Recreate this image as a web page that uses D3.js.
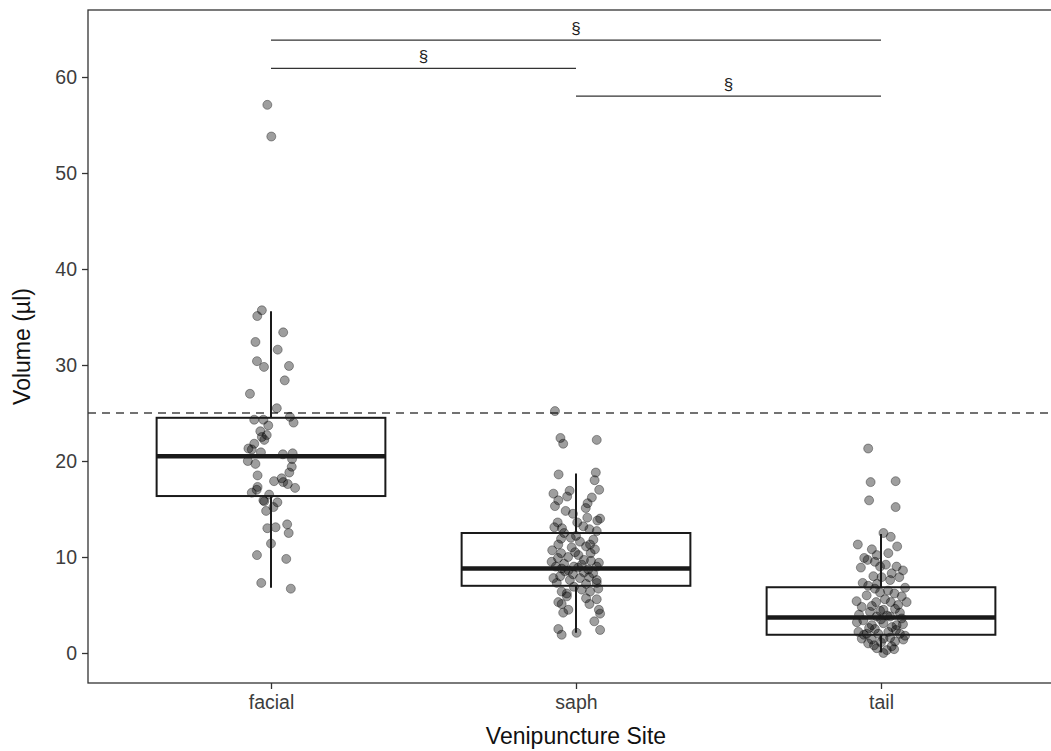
<!DOCTYPE html>
<html><head><meta charset="utf-8">
<script src="https://cdn.jsdelivr.net/npm/d3@7"></script>
<style>body{margin:0;background:#fff}svg{display:block;font-family:"Liberation Sans",Arial,sans-serif}</style>
</head><body><svg id="c" width="1051" height="751"></svg>
<script>
const categories = ["facial","saph","tail"];
const yTicks = [0,10,20,30,40,50,60];
const threshold = 25;
// box stats: [lowerWhisker, q1, median, q3, upperWhisker]
const boxStats = {
  facial: [6.8, 16.35, 20.5, 24.5, 35.6],
  saph:   [2.1, 7.0, 8.8, 12.5, 18.7],
  tail:   [0.05, 1.9, 3.7, 6.85, 12.4]
};
const facialVol = [57.1,53.8,35.7,35.1,33.4,32.4,31.6,30.4,29.8,29.9,28.4,27.0,25.5,24.3,24.3,24.6,24.0,23.7,23.1,22.7,22.5,22.2,21.8,21.3,21.2,20.9,20.7,20.8,20.2,20.0,19.7,19.4,18.8,18.5,18.2,17.9,17.8,17.6,17.2,17.3,17.0,16.7,16.5,15.9,15.8,15.7,15.2,14.8,13.0,13.1,13.4,12.5,11.4,10.2,9.8,7.3,6.7];
const facialJit = [-0.012,0.001,-0.030,-0.045,0.040,-0.051,0.022,-0.046,-0.023,0.059,0.045,-0.069,0.019,-0.055,-0.025,0.062,0.074,-0.009,-0.035,-0.014,-0.030,-0.022,-0.055,-0.074,-0.063,-0.033,0.039,0.071,0.069,-0.076,-0.051,0.068,0.060,-0.044,0.035,0.010,0.040,0.055,0.079,-0.044,-0.047,-0.063,-0.006,-0.025,-0.022,0.021,0.008,-0.016,-0.012,0.015,0.053,0.058,0.000,-0.046,0.050,-0.032,0.065];
const saphVol = [25.2,22.4,21.8,22.2,18.6,18.8,18.0,17.0,16.6,16.9,16.3,15.9,15.3,16.2,15.6,15.1,14.8,14.1,14.0,13.8,13.6,13.6,13.1,13.2,12.9,12.7,12.5,11.9,11.8,12.0,11.3,11.1,11.3,10.7,10.4,11.0,10.2,10.4,9.5,9.4,9.0,8.8,8.6,9.0,9.2,8.7,9.0,8.5,7.8,7.6,7.8,7.6,7.3,7.2,7.3,6.4,6.2,6.6,6.4,6.7,5.9,5.7,5.6,5.3,5.1,5.1,4.5,4.2,4.5,4.1,3.3,2.5,1.9,2.1,2.4,10.0,9.7,9.9,8.2,8.3,8.0,9.3,10.8,11.6,12.2,8.9,8.4,7.9,6.9,10.5,9.6,14.5,13.0];
const saphJit = [-0.069,-0.051,-0.042,0.068,-0.057,0.065,0.061,0.076,-0.074,-0.021,-0.029,-0.058,-0.069,0.052,0.038,0.032,-0.034,0.037,0.079,0.070,-0.060,0.004,-0.071,0.024,0.044,0.068,-0.039,-0.049,0.057,-0.017,-0.058,0.033,0.046,-0.078,-0.049,-0.014,0.008,0.048,-0.080,0.075,-0.066,-0.047,-0.025,-0.007,0.019,0.040,0.068,-0.036,-0.074,-0.020,0.013,0.068,-0.063,0.033,0.068,-0.047,-0.030,0.019,0.046,0.073,-0.030,0.033,0.068,-0.058,-0.047,0.044,-0.025,-0.042,0.075,0.079,0.060,-0.058,-0.047,0.002,0.079,-0.026,0.026,-0.059,-0.010,0.056,-0.052,-0.039,0.062,0.013,0.000,0.007,0.026,0.043,-0.007,-0.003,0.049,-0.010,-0.046];
const tailVol = [21.3,17.8,17.9,15.9,15.2,12.5,12.1,11.3,11.1,10.4,10.2,9.9,9.7,9.2,9.0,8.9,9.0,8.3,8.0,7.9,7.6,7.9,7.3,7.0,6.7,6.8,6.3,6.2,6.0,5.9,5.4,5.3,5.3,4.8,5.3,4.5,4.3,4.2,3.4,3.8,3.8,3.6,2.9,3.1,2.9,2.2,2.0,2.0,2.2,2.0,1.5,1.4,1.5,1.2,1.4,0.5,0.3,0.0,1.0,0.7,4.0,3.2,2.5,2.7,1.8,3.5,4.6,4.9,1.9,2.4,3.0,5.6,4.4,1.1,0.8,2.6,3.9,5.0,6.5,7.2,10.8,9.5,8.6,1.6,0.4];
const tailJit = [-0.042,-0.034,0.048,-0.039,0.048,0.008,0.032,-0.076,0.053,0.024,-0.014,-0.055,-0.044,0.016,0.051,-0.066,-0.003,0.035,-0.025,0.060,0.030,0.002,-0.060,-0.042,-0.020,0.079,-0.003,0.044,-0.047,0.068,-0.080,0.032,0.084,-0.063,-0.016,0.008,-0.036,0.062,-0.058,-0.014,0.030,0.068,-0.030,0.008,0.051,-0.074,-0.047,-0.009,0.024,0.062,-0.063,-0.030,0.008,0.046,0.073,-0.014,0.019,0.008,-0.042,0.035,-0.072,-0.079,-0.020,0.036,0.079,0.000,0.046,-0.030,-0.056,0.049,0.072,0.013,-0.003,0.000,-0.023,-0.039,0.020,0.056,0.023,-0.013,-0.030,-0.020,0.072,0.030,0.043];
// significance brackets: [from, to, yValue, label]
const brackets = [["facial","tail",63.85,"§"],["facial","saph",60.9,"§"],["saph","tail",58.0,"§"]];

const svg = d3.select("#c");
const L=88, R=1064, T=10, B=683;
const x = d3.scalePoint().domain(categories).range([L,R]).padding(0.6);
const y = d3.scaleLinear().domain([-3.125,66.98]).range([B,T]);
const bw = x.step()*0.75;

// dashed threshold
svg.append("line").attr("x1",L).attr("x2",R).attr("y1",y(threshold)).attr("y2",y(threshold))
  .attr("stroke","#444").attr("stroke-width",1.5).attr("stroke-dasharray","8,6");

// points
const series = {facial:[facialVol,facialJit], saph:[saphVol,saphJit], tail:[tailVol,tailJit]};
categories.forEach(c=>{
  const [v,j]=series[c];
  svg.append("g").selectAll("circle").data(v.map((d,i)=>[d,j[i]])).join("circle")
    .attr("cx",d=>x(c)+d[1]*x.step()).attr("cy",d=>y(d[0])).attr("r",4.5)
    .attr("fill","#000").attr("fill-opacity",0.38)
    .attr("stroke","#000").attr("stroke-opacity",0.35).attr("stroke-width",1);
});

// boxes
categories.forEach(c=>{
  const s=boxStats[c], cx=x(c);
  const g=svg.append("g").attr("stroke","#1a1a1a").attr("fill","none");
  g.append("line").attr("x1",cx).attr("x2",cx).attr("y1",y(s[3])).attr("y2",y(s[4])).attr("stroke-width",2);
  g.append("line").attr("x1",cx).attr("x2",cx).attr("y1",y(s[1])).attr("y2",y(s[0])).attr("stroke-width",2);
  g.append("rect").attr("x",cx-bw/2).attr("width",bw).attr("y",y(s[3])).attr("height",y(s[1])-y(s[3])).attr("stroke-width",2);
  g.append("line").attr("x1",cx-bw/2).attr("x2",cx+bw/2).attr("y1",y(s[2])).attr("y2",y(s[2])).attr("stroke-width",4.5);
});

// brackets
brackets.forEach(b=>{
  const yy=y(b[2]);
  svg.append("line").attr("x1",x(b[0])).attr("x2",x(b[1])).attr("y1",yy).attr("y2",yy).attr("stroke","#333").attr("stroke-width",1.3);
  svg.append("text").attr("x",(x(b[0])+x(b[1]))/2).attr("y",yy-6).attr("text-anchor","middle")
    .attr("font-size",17).attr("fill","#222").text(b[3]);
});

// frame
svg.append("rect").attr("x",L).attr("y",T).attr("width",R-L).attr("height",B-T).attr("fill","none").attr("stroke","#333").attr("stroke-width",1.3);

// axes
const ya=svg.append("g").attr("transform",`translate(${L},0)`).call(d3.axisLeft(y).tickValues(yTicks).tickSize(6).tickPadding(5));
const xa=svg.append("g").attr("transform",`translate(0,${B})`).call(d3.axisBottom(x).tickSize(6).tickPadding(6));
[ya,xa].forEach(a=>{
  a.select(".domain").remove();
  a.selectAll(".tick line").attr("stroke","#333").attr("stroke-width",1.3);
  a.selectAll(".tick text").attr("fill","#3d3d3d").attr("font-size",19.5).attr("font-family","Liberation Sans, Arial, sans-serif");
});

svg.append("text").attr("x",(L+R)/2).attr("y",744).attr("text-anchor","middle").attr("font-size",23).attr("fill","#111").text("Venipuncture Site");
svg.append("text").attr("transform",`translate(30,${(T+B)/2}) rotate(-90)`).attr("text-anchor","middle").attr("font-size",23).attr("fill","#111").text("Volume (µl)");
</script></body></html>
